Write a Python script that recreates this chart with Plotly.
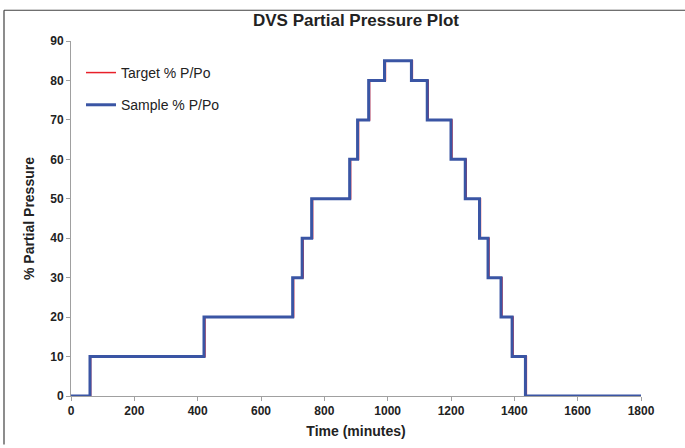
import plotly.graph_objects as go

# Step change times (minutes) and partial pressure levels (% P/Po)
target_times = [0, 62, 423, 703, 733, 763, 883, 908, 943, 993, 1078, 1128, 1203, 1248, 1293, 1320, 1361, 1396, 1438, 1800]
target_values = [0, 10, 20, 30, 40, 50, 60, 70, 80, 85, 80, 70, 60, 50, 40, 30, 20, 10, 0, 0]

sample_times = [0, 60, 420, 700, 730, 760, 880, 905, 940, 990, 1075, 1125, 1200, 1245, 1290, 1317, 1358, 1393, 1435, 1800]
sample_values = [0, 10, 20, 30, 40, 50, 60, 70, 80, 85, 80, 70, 60, 50, 40, 30, 20, 10, 0, 0]

x_ticks = [0, 200, 400, 600, 800, 1000, 1200, 1400, 1600, 1800]
y_ticks = [0, 10, 20, 30, 40, 50, 60, 70, 80, 90]

FONT = "Liberation Sans, Arial, sans-serif"
TXT = "#222222"

fig = go.Figure()
fig.add_trace(go.Scatter(
    x=target_times, y=target_values, mode="lines", line_shape="hv",
    name="Target % P/Po", legendgroup="a",
    line=dict(color="#E8202A", width=1.5),
))
fig.add_trace(go.Scatter(
    x=sample_times, y=sample_values, mode="lines", line_shape="hv",
    name="Sample % P/Po", legendgroup="b",
    line=dict(color="#3A55A4", width=3),
))

px_l, px_r, px_t, px_b = 71, 641, 41, 399
fx0 = (4 - px_l) / (px_r - px_l)
fx1 = (685 - px_l) / (px_r - px_l)
fy1 = (px_b - 10) / (px_b - px_t)
fy0 = (px_b - 448) / (px_b - px_t)

fig.update_layout(
    width=685, height=448,
    margin=dict(l=71, r=44, t=41, b=49),
    paper_bgcolor="white", plot_bgcolor="white",
    font=dict(family=FONT, color=TXT),
    title=dict(text="<b>DVS Partial Pressure Plot</b>", x=(71 + 641) / 2 / 685, xanchor="center",
               y=1 - 20 / 448, yanchor="middle", font=dict(size=17, color=TXT)),
    showlegend=True,
    legend=dict(x=0.0175, y=0.955, xanchor="left", yanchor="top", bgcolor="rgba(0,0,0,0)",
                font=dict(size=14, color=TXT), tracegroupgap=11, traceorder="grouped"),
    xaxis=dict(range=[0, 1800], tickvals=x_ticks, ticktext=[f"<b>{v}</b>" for v in x_ticks],
               showgrid=False, zeroline=False, showline=True, linecolor="#A0A0A0", linewidth=1,
               ticks="outside", ticklen=4, tickcolor="#A0A0A0",
               tickfont=dict(size=12, color=TXT),
               title=dict(text="<b>Time (minutes)</b>", font=dict(size=14, color=TXT), standoff=8)),
    yaxis=dict(range=[0, 90], tickvals=y_ticks, ticktext=[f"<b>{v}</b>" for v in y_ticks],
               showgrid=False, zeroline=False, showline=True, linecolor="#A0A0A0", linewidth=1,
               ticks="outside", ticklen=4, tickcolor="#A0A0A0",
               tickfont=dict(size=12, color=TXT),
               title=dict(text="<b>% Partial Pressure</b>", font=dict(size=14, color=TXT), standoff=12)),
    shapes=[
        dict(type="line", xref="paper", yref="paper", x0=fx0, x1=fx1, y0=fy1, y1=fy1,
             line=dict(color="#404040", width=1.2), layer="above"),
        dict(type="line", xref="paper", yref="paper", x0=fx0, x1=fx0, y0=fy0, y1=fy1,
             line=dict(color="#404040", width=1.2), layer="above"),
    ],
)

fig.write_html("out.html", config={"displayModeBar": False},
               post_script="document.body.style.margin='0';document.body.style.padding='0';")
